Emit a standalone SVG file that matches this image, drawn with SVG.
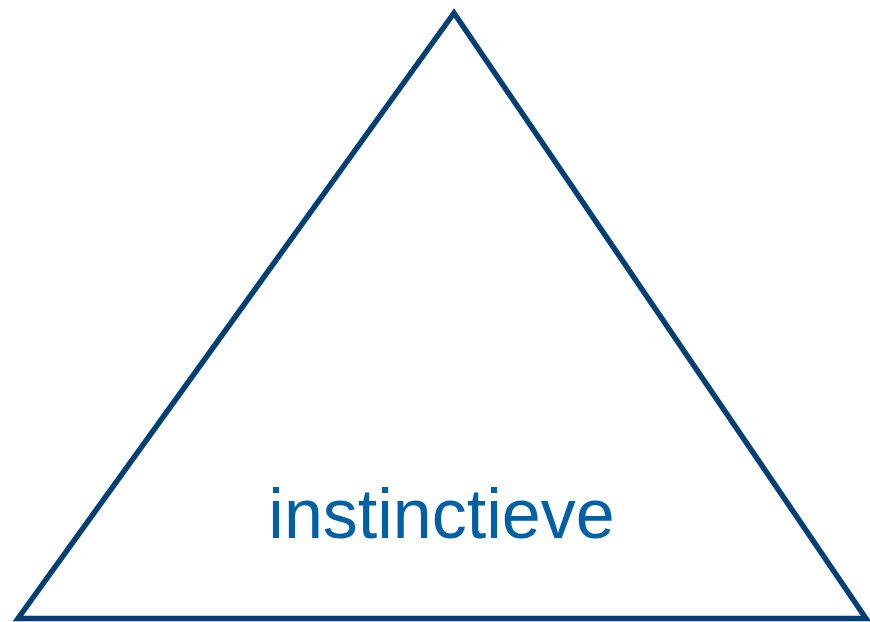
<svg xmlns="http://www.w3.org/2000/svg" width="870" height="622" viewBox="0 0 870 622">
<style>
.tri{fill:#ffffff;stroke:#003f73;stroke-width:5.5;stroke-linejoin:miter;stroke-miterlimit:10}
.lbl{font-family:"Liberation Sans",Arial,sans-serif;font-size:70px;fill:#0060a3;text-anchor:middle}
</style>
<rect width="870" height="622" fill="#ffffff"/>
<g id="triangle">
<polygon class="tri" points="454,13 18,618.5 866,618.5"/>
<text class="lbl" x="441.5" y="538">instinctieve</text>
</g>
</svg>
